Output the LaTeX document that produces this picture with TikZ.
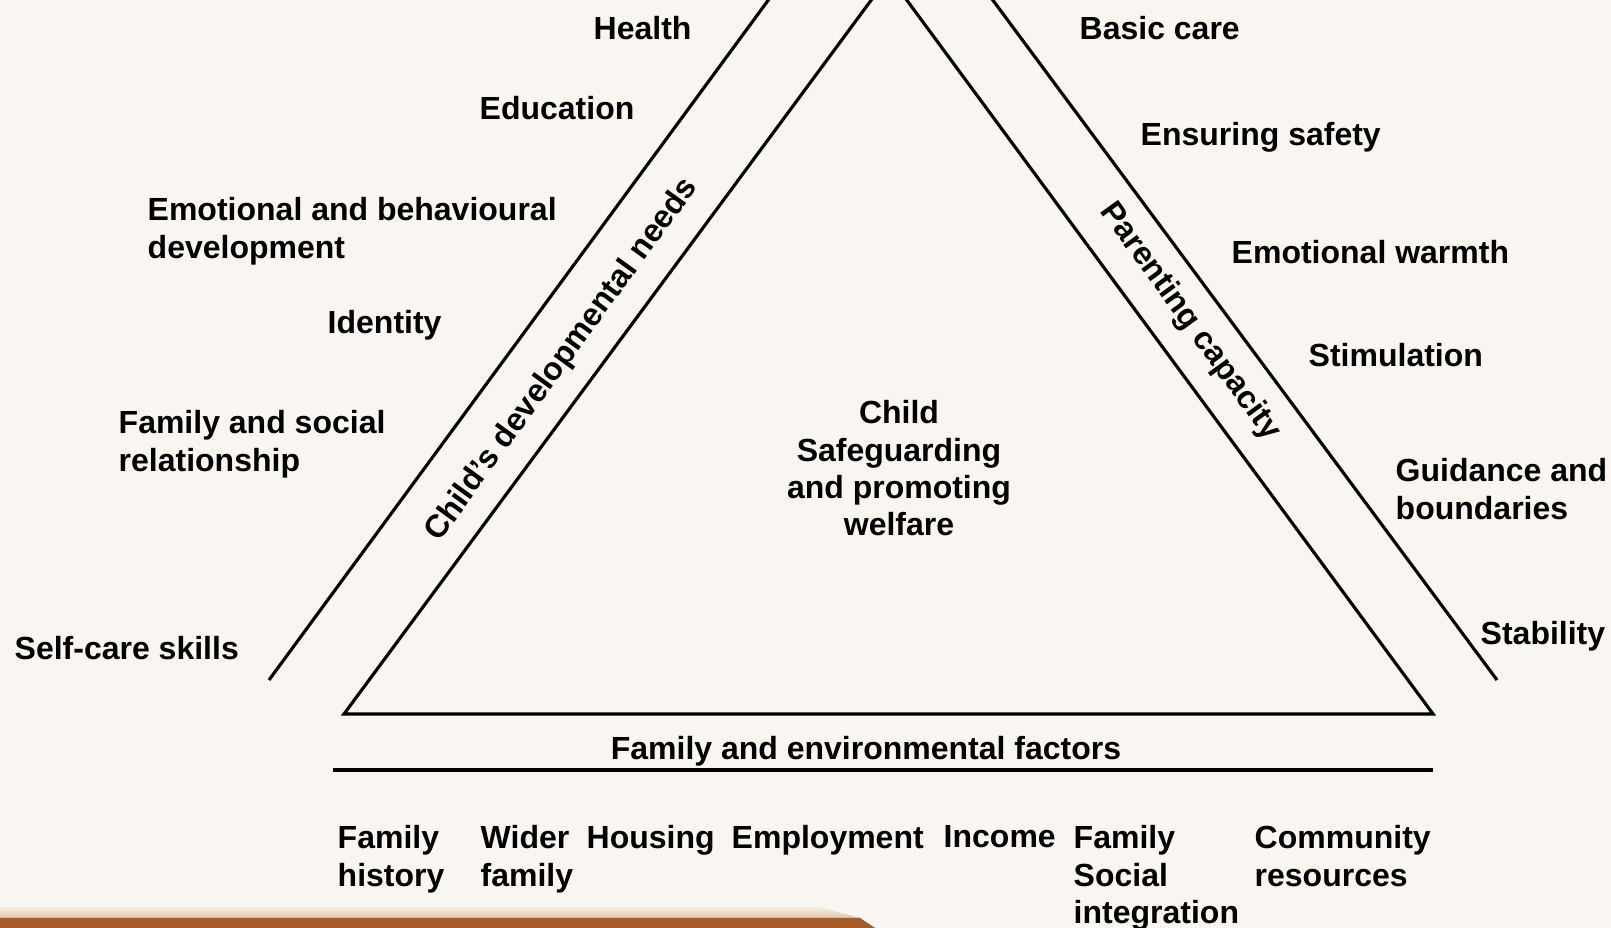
\documentclass[tikz,border=0pt]{standalone}
\usepackage{fontspec}
\setmainfont{Liberation Sans}
\definecolor{paper}{RGB}{249,246,241}
\definecolor{bar}{RGB}{166,90,40}
\definecolor{barlight}{RGB}{226,196,166}
\begin{document}
\begin{tikzpicture}[x=0.01cm,y=-0.01cm,
      lbl/.style={anchor=north west,inner sep=0,align=left,font=\fontsize{9.1}{10.6}\selectfont\bfseries},
      band/.style={inner sep=0,font=\fontsize{9.1}{10.6}\selectfont\bfseries},
      side/.style={line width=0.9pt}]
      \fill[paper] (0,0) rectangle (1611,928);
      \useasboundingbox (0,0) rectangle (1611,928);
      \clip (0,0) rectangle (1611,928);
      % inner triangle
      \coordinate (apex) at (889,-24);
      \coordinate (baseL) at (344,714);
      \coordinate (baseR) at (1433,714);
      \draw[side,line join=miter] (apex) -- (baseL) -- (baseR) -- cycle;
      % outer sides
      \coordinate (outApex) at (880,-152);
      \coordinate (outL) at (269,680);
      \coordinate (outR) at (1497,680);
      \draw[side] (outL) -- (outApex) -- (outR);
      % rule under the base
      \coordinate (ruleL) at (333,770);
      \coordinate (ruleR) at (1433,770);
      \draw[side] (ruleL) -- (ruleR);
      % band titles
      \node[band,rotate=54] (needs) at (562,360) {Child’s developmental needs};
      \node[band,rotate=-54] (parenting) at (1190,322) {Parenting capacity};
      \node[band,anchor=north] (factors) at (866,736) {Family and environmental factors};
      \node[band,anchor=north,align=center] (child) at (899,400) {Child\\Safeguarding\\and promoting\\welfare};
      % child's needs
      \node[lbl] (health) at (593,16) {Health};
      \node[lbl] (education) at (479,96) {Education};
      \node[lbl] (emotional) at (147,197) {Emotional and behavioural\\development};
      \node[lbl] (identity) at (327,310) {Identity};
      \node[lbl] (relations) at (118,410) {Family and social\\relationship};
      \node[lbl] (selfcare) at (14,636) {Self-care skills};
      % parenting capacity
      \node[lbl] (basic) at (1079,16) {Basic care};
      \node[lbl] (safety) at (1140,122) {Ensuring safety};
      \node[lbl] (warmth) at (1231,240) {Emotional warmth};
      \node[lbl] (stimulation) at (1308,343) {Stimulation};
      \node[lbl] (guidance) at (1395,458) {Guidance and\\boundaries};
      \node[lbl] (stability) at (1480,621) {Stability};
      % family and environment
      \node[lbl] (history) at (337,825) {Family\\history};
      \node[lbl] (wider) at (480,825) {Wider\\family};
      \node[lbl] (housing) at (586,825) {Housing};
      \node[lbl] (employment) at (731,825) {Employment};
      \node[lbl] (income) at (943,825) {Income};
      \node[lbl] (social) at (1073,825) {Family\\Social\\integration};
      \node[lbl] (community) at (1254,825) {Community\\resources};
      % brown strip along the bottom
      \shade[top color=paper,bottom color=barlight] (0,905) -- (812,905) -- (860,918) -- (0,918) -- cycle;
      \fill[bar] (0,918) -- (860,918) -- (875,928) -- (0,928) -- cycle;
   \end{tikzpicture}
\end{document}
